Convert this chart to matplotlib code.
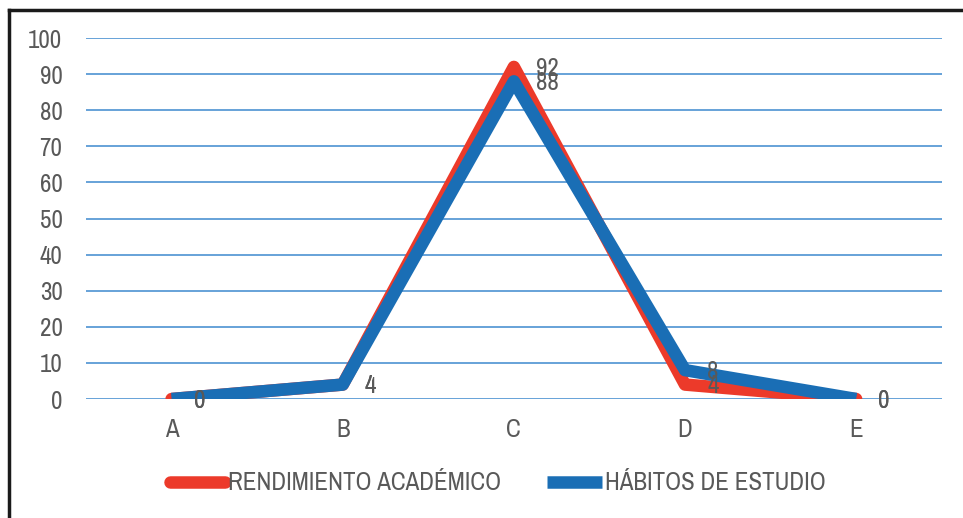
import matplotlib.pyplot as plt
from matplotlib.lines import Line2D

categories = ["A", "B", "C", "D", "E"]
rendimiento = [0, 4, 92, 4, 0]
habitos = [0, 4, 88, 8, 0]
yticks = [0, 10, 20, 30, 40, 50, 60, 70, 80, 90, 100]

plt.rcParams['font.family'] = ['Liberation Sans Narrow', 'Archivo Narrow', 'DejaVu Sans']
grey = "#595959"
red = "#EC3A2A"
blue = "#1A6EB5"

fig = plt.figure(figsize=(9.63, 5.18), dpi=100)
ax = fig.add_axes([0.0893, 0.2297, 0.8886, 0.6969])

x = list(range(len(categories)))
ax.plot(x, rendimiento, color=red, lw=9, solid_capstyle="round",
        solid_joinstyle="round", label="RENDIMIENTO ACADÉMICO", zorder=3)
ax.plot(x, habitos, color=blue, lw=9, solid_capstyle="butt",
        solid_joinstyle="round", label="HÁBITOS DE ESTUDIO", zorder=4)

for xi, v in zip(x, rendimiento):
    ax.annotate(str(v), (xi, v), xytext=(16, -1), textcoords="offset points",
                ha="left", va="center", fontsize=18, color=grey, zorder=5)
for xi, v in zip(x, habitos):
    ax.annotate(str(v), (xi, v), xytext=(16, -1), textcoords="offset points",
                ha="left", va="center", fontsize=18, color=grey, zorder=5)

ax.set_xlim(-0.5, 4.5)
ax.set_ylim(0, 100)
ax.set_yticks(yticks)
ax.set_xticks(x)
ax.set_xticklabels(categories)
ax.grid(axis="y", color="#5B9BD5", lw=1.3)
ax.set_axisbelow(True)
for s in ax.spines.values():
    s.set_visible(False)
ax.tick_params(length=0, labelsize=18, labelcolor=grey)
ax.tick_params(axis="y", pad=17)
ax.tick_params(axis="x", pad=14)

ax.legend(loc="center", bbox_to_anchor=(0.517, 0.068), bbox_transform=fig.transFigure,
          ncol=2, frameon=False, fontsize=18, labelcolor=grey, handlelength=2.2,
          handletextpad=0.15, columnspacing=1.8)

# black border (top and left)
fig.add_artist(Line2D([0.0093, 1.0], [0.980, 0.980], color="#1a1a1a", lw=2.5,
                      transform=fig.transFigure))
fig.add_artist(Line2D([0.0093, 0.0093], [0.0, 0.980], color="#1a1a1a", lw=2.5,
                      transform=fig.transFigure))

fig.savefig("out.png", dpi=100)
